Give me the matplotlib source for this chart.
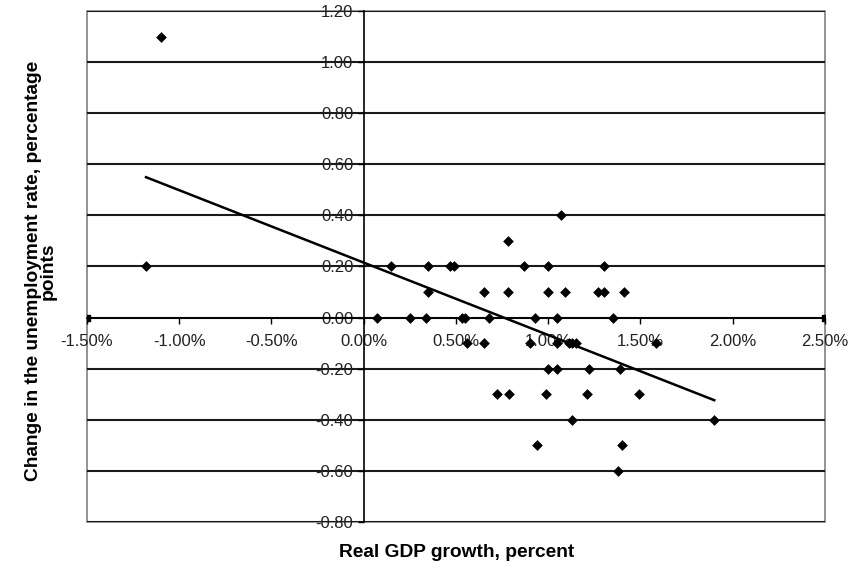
import numpy as np
import matplotlib
matplotlib.use('Agg')
from matplotlib import pyplot as plt
from matplotlib.patches import Rectangle

# Real GDP growth (percent) and change in unemployment rate (percentage points)
gdp_growth = [
    -1.10, -1.18,
    0.15, 0.35, 0.47, 0.49, 0.87, 1.00, 1.30,
    1.07, 0.78,
    0.35, 0.65, 0.78, 1.00, 1.09, 1.27, 1.30, 1.41,
    0.07, 0.25, 0.34, 0.53, 0.55, 0.68, 0.93, 1.05, 1.35,
    0.56, 0.65, 0.90, 1.05, 1.11, 1.13, 1.15, 1.585,
    1.00, 1.05, 1.22, 1.39,
    0.72, 0.79, 0.99, 1.21, 1.49,
    1.13, 1.90,
    0.94, 1.40,
    1.38,
]
unemp_change = [
    1.10, 0.20,
    0.20, 0.20, 0.20, 0.20, 0.20, 0.20, 0.20,
    0.40, 0.30,
    0.10, 0.10, 0.10, 0.10, 0.10, 0.10, 0.10, 0.10,
    0.00, 0.00, 0.00, 0.00, 0.00, 0.00, 0.00, 0.00, 0.00,
    -0.10, -0.10, -0.10, -0.10, -0.10, -0.10, -0.10, -0.10,
    -0.20, -0.20, -0.20, -0.20,
    -0.30, -0.30, -0.30, -0.30, -0.30,
    -0.40, -0.40,
    -0.50, -0.50,
    -0.60,
]

# Excel axis end markers
anchor_x = [-1.50, 2.50]
anchor_y = [0.00, 0.00]

x_ticks = [-1.5, -1.0, -0.5, 0.0, 0.5, 1.0, 1.5, 2.0, 2.5]
y_ticks = [-0.8, -0.6, -0.4, -0.2, 0.0, 0.2, 0.4, 0.6, 0.8, 1.0, 1.2]

plt.rcParams['font.family'] = ['Liberation Sans', 'DejaVu Sans']

fig = plt.figure(figsize=(8.51, 5.67), dpi=100)
ax = fig.add_axes([0.1022, 0.0794, 0.8672, 0.9012])

# Plot area border
ax.add_patch(Rectangle((0, 0), 1, 1, transform=ax.transAxes, fill=False,
                       edgecolor='#808080', linewidth=1.2, zorder=0.5, clip_on=False))

# Gridlines
for yv in y_ticks:
    ax.axhline(yv, color='#1a1a1a', linewidth=1.5, zorder=1)

# Data points
ax.scatter(gdp_growth, unemp_change, marker='D', s=30, color='black',
           linewidths=0, zorder=4)
ax.scatter(anchor_x, anchor_y, marker='s', s=14, color='black', zorder=4)

# Linear trendline
coef = np.polyfit(gdp_growth, unemp_change, 1)
xs = np.array([min(gdp_growth), max(gdp_growth)])
ax.plot(xs, np.polyval(coef, xs), color='black', linewidth=1.8, zorder=3)

ax.set_xlim(-1.5, 2.5)
ax.set_ylim(-0.8, 1.2)

# Axes crossing at the origin
for side in ['top', 'right']:
    ax.spines[side].set_visible(False)
ax.spines['left'].set_position(('data', 0))
ax.spines['bottom'].set_position(('data', 0))
ax.spines['left'].set_color('black')
ax.spines['bottom'].set_color('black')
ax.spines['left'].set_linewidth(1.2)
ax.spines['bottom'].set_linewidth(1.2)

ax.set_xticks(x_ticks)
ax.set_xticklabels([f'{v:.2f}%' for v in x_ticks])
ax.set_yticks(y_ticks)
ax.set_yticklabels([f'{v:.2f}' for v in y_ticks])
ax.tick_params(axis='both', direction='out', length=4, width=1, labelsize=12,
               labelcolor='#222222')
ax.tick_params(axis='x', pad=8)
ax.tick_params(axis='y', pad=3.5)

fig.text(0.536, 0.025, 'Real GDP growth, percent', ha='center', va='center',
         fontsize=13.8, fontweight='bold')
fig.text(0.048, 0.522, 'Change in the unemployment rate, percentage\npoints',
         ha='center', va='center', rotation=90, fontsize=13.8, fontweight='bold',
         linespacing=0.8)

fig.savefig('out.png', dpi=100)
plt.close('all')
